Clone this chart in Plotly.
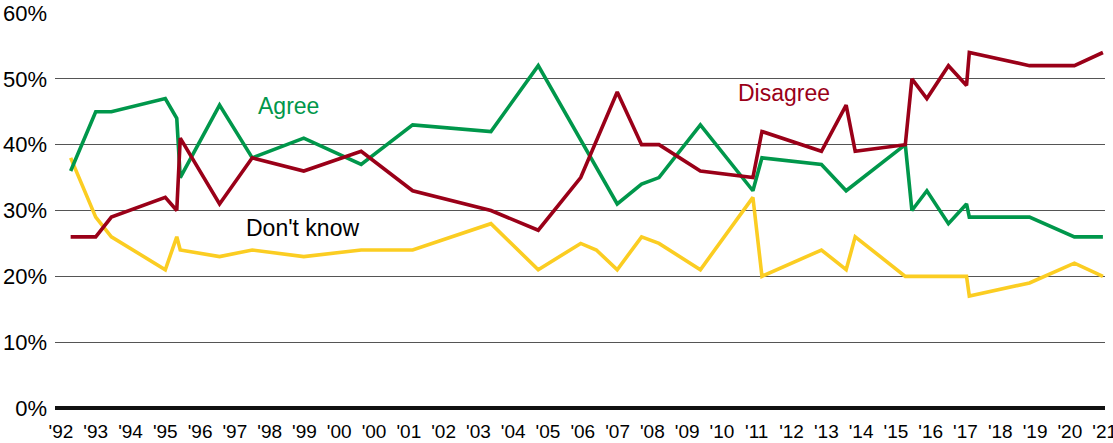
'''
Agree / disagree / don't know survey trend, redrawn with plotly
'''

from logging import INFO
from logging import basicConfig
from logging import getLogger

from plotly.graph_objects import Figure
from plotly.graph_objects import Scatter

OUTPUT_FILE = 'out.html'

# tick labels as printed under the axis (the repeated '00 is in the original)
TICK_LABELS = ["'92", "'93", "'94", "'95", "'96", "'97", "'98", "'99", "'00", "'00",
               "'01", "'02", "'03", "'04", "'05", "'06", "'07", "'08", "'09", "'10",
               "'11", "'12", "'13", "'14", "'15", "'16", "'17", "'18", "'19", "'20", "'21"]

# survey positions, in tick-label units
AGREE_X = [0.28, 1.0, 1.45, 3.0, 3.33, 3.43, 4.56, 5.5, 6.98, 8.63, 10.11, 12.36, 13.72,
           15.99, 16.69, 17.19, 18.38, 19.89, 20.15, 21.86, 22.57, 24.27, 24.46, 24.89,
           25.51, 26.03, 26.11, 27.84, 29.13, 29.95]
AGREE = [36, 45, 45, 47, 44, 35, 46, 38, 41, 37, 43, 42, 52,
         31, 34, 35, 43, 33, 38, 37, 33, 40, 30, 33,
         28, 31, 29, 29, 26, 26]

DISAGREE_X = [0.28, 1.0, 1.45, 3.0, 3.33, 3.43, 4.56, 5.5, 6.98, 8.63, 10.11, 12.36, 13.72,
              14.94, 15.99, 16.69, 17.19, 18.38, 19.89, 20.15, 21.86, 22.57, 22.83, 24.27,
              24.46, 24.89, 25.51, 26.03, 26.11, 27.84, 29.13, 29.95]
DISAGREE = [26, 26, 29, 32, 30, 41, 31, 38, 36, 39, 33, 30, 27,
            35, 48, 40, 40, 36, 35, 42, 39, 46, 39, 40,
            50, 47, 52, 49, 54, 52, 52, 54]

DONT_KNOW_X = [0.28, 1.0, 1.45, 3.0, 3.33, 3.43, 4.56, 5.5, 6.98, 8.63, 10.11, 12.36, 13.72,
               14.94, 15.39, 15.99, 16.69, 17.19, 18.38, 19.89, 20.15, 21.86, 22.57, 22.83,
               24.27, 26.03, 26.11, 27.84, 29.13, 29.95]
DONT_KNOW = [38, 29, 26, 21, 26, 24, 23, 24, 23, 24, 24, 28, 21,
             25, 24, 21, 26, 25, 21, 32, 20, 24, 21, 26,
             20, 20, 17, 19, 22, 20]

Y_TICKS = [0, 10, 20, 30, 40, 50, 60]

GREEN = '#00974b'
RED = '#9a0018'
YELLOW = '#fbcd22'
FONT = 'Liberation Sans, Arial, sans-serif'

if __name__ == '__main__':
    LOGGER = getLogger(__name__, )
    basicConfig(format='%(asctime)s : %(name)s : %(levelname)s : %(message)s', level=INFO, )
    LOGGER.info('started')

    fig = Figure()
    for xs, ys, color, name in [(DONT_KNOW_X, DONT_KNOW, YELLOW, "Don't know"),
                                (AGREE_X, AGREE, GREEN, 'Agree'),
                                (DISAGREE_X, DISAGREE, RED, 'Disagree')]:
        fig.add_trace(Scatter(x=xs, y=ys, mode='lines', name=name, cliponaxis=False,
                              line=dict(color=color, width=3.6), ))

    for text, x, y, color in [('Agree', 6.54, 45.9, GREEN),
                              ('Disagree', 20.77, 47.9, RED),
                              ("Don't know", 6.95, 27.4, '#000000')]:
        fig.add_annotation(x=x, y=y, text=text, showarrow=False, xanchor='center', yanchor='middle',
                           font=dict(family=FONT, size=23, color=color))

    fig.update_layout(
        width=1113, height=443, showlegend=False,
        margin=dict(l=55, r=8, t=13, b=35),
        paper_bgcolor='white', plot_bgcolor='white',
        font=dict(family=FONT, color='#000000'),
    )
    fig.update_xaxes(range=[-0.17, 30.01], tickmode='array', tickvals=list(range(len(TICK_LABELS))),
                     ticktext=TICK_LABELS, showgrid=False, zeroline=False, showline=False, automargin=False,
                     ticks='', ticklabelstandoff=10, ticklabeloverflow='allow',
                     tickfont=dict(size=19, family=FONT))
    fig.update_yaxes(range=[0, 60], tickmode='array', tickvals=Y_TICKS,
                     ticktext=['{}%'.format(v) for v in Y_TICKS], automargin=False,
                     showgrid=True, gridcolor='#555555', gridwidth=1.3,
                     zeroline=True, zerolinecolor='#111111', zerolinewidth=3.5,
                     showline=False, ticks='', ticklabelstandoff=7, tickfont=dict(size=22, family=FONT))

    # page body has a default 8px margin; drop it so the chart sits at the window corner
    fig.write_html(OUTPUT_FILE, config={'displayModeBar': False},
                   post_script="document.body.style.margin = '0px';")
    LOGGER.info('done')
